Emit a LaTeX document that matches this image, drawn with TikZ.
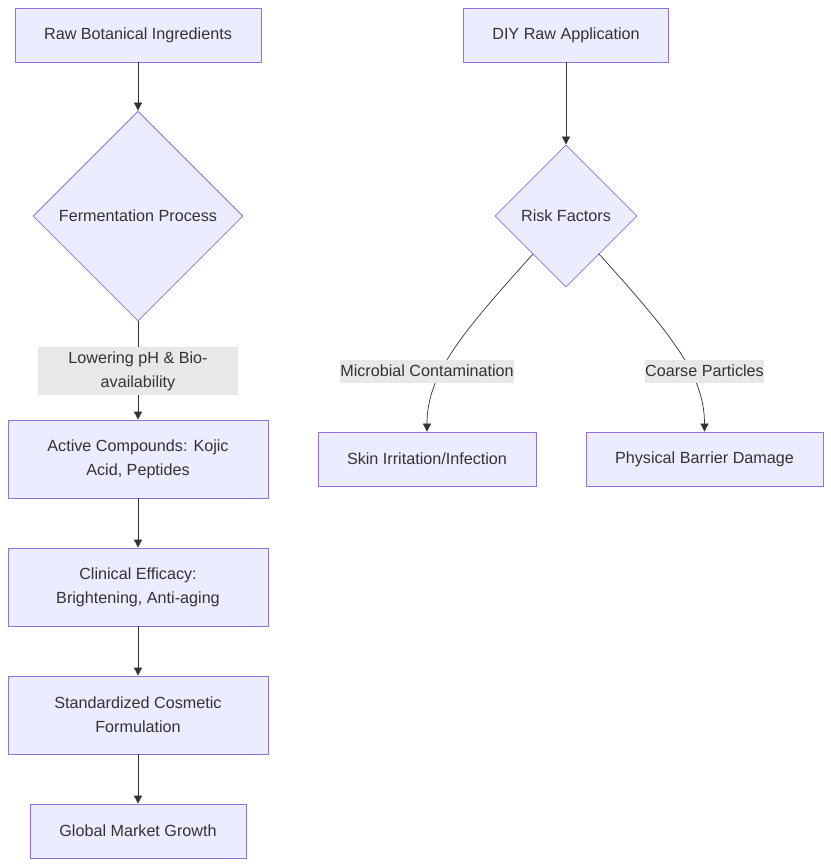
\documentclass[tikz,border=0pt]{standalone}
\usepackage{fontspec}
\setmainfont{Liberation Sans}
\usetikzlibrary{shapes.geometric,arrows.meta}
\definecolor{boxfill}{HTML}{ECECFF}
\definecolor{boxline}{HTML}{9370DB}
\definecolor{ink}{HTML}{333333}
\definecolor{lblfill}{HTML}{E8E8E8}
\begin{document}
\begin{tikzpicture}[
  x=0.02cm, y=-0.02cm,
  every node/.style={text=ink, font=\fontsize{9.2pt}{13.6pt}\selectfont, align=center},
  box/.style={rectangle, fill=boxfill, draw=boxline, line width=0.45pt, inner sep=0pt},
  decision/.style={diamond, fill=boxfill, draw=boxline, line width=0.45pt, inner sep=0pt, aspect=1},
  lbl/.style={rectangle, fill=lblfill, inner sep=0pt},
  flow/.style={draw=ink, line width=0.4pt, -{Triangle[length=1.6mm,width=1.6mm]}}
]
  \useasboundingbox (0,0) rectangle (831,867);

  % Rama izquierda: proceso de fermentacion
  \node[box, minimum width=4.92cm, minimum height=1.08cm] (raw) at (138,35) {Raw Botanical Ingredients};
  \node[decision, minimum width=4.2cm, minimum height=4.2cm] (ferm) at (138,216) {Fermentation Process};
  \node[box, minimum width=5.2cm, minimum height=1.56cm] (active) at (138,459) {Active Compounds: Kojic\\Acid, Peptides};
  \node[box, minimum width=5.2cm, minimum height=1.56cm] (clinic) at (138,587) {Clinical Efficacy:\\Brightening, Anti-aging};
  \node[box, minimum width=5.2cm, minimum height=1.56cm] (formul) at (138,715) {Standardized Cosmetic\\Formulation};
  \node[box, minimum width=4.32cm, minimum height=1.08cm] (market) at (138,831) {Global Market Growth};

  % Rama derecha: aplicacion casera
  \node[box, minimum width=4.1cm, minimum height=1.08cm] (diy) at (566,35) {DIY Raw Application};
  \node[decision, minimum width=2.84cm, minimum height=2.84cm] (risk) at (566,216) {Risk Factors};
  \node[box, minimum width=4.36cm, minimum height=1.08cm] (skin) at (427,459) {Skin Irritation/Infection};
  \node[box, minimum width=4.74cm, minimum height=1.08cm] (barrier) at (704.5,459) {Physical Barrier Damage};

  % Flechas de la izquierda
  \draw[flow] (raw) -- (ferm);
  \draw[flow] (ferm) -- (active);
  \draw[flow] (active) -- (clinic);
  \draw[flow] (clinic) -- (formul);
  \draw[flow] (formul) -- (market);

  % Flechas de la derecha
  \draw[flow] (diy) -- (risk);
  \draw[flow] (risk.229) .. controls (460,335) and (427,375) .. (skin.north);
  \draw[flow] (risk.311) .. controls (672,335) and (704.5,375) .. (barrier.north);

  % Etiquetas de las aristas
  \node[lbl, minimum width=4cm, minimum height=0.96cm] (lowph) at (138,371) {Lowering pH \& Bio-\\availability};
  \node[lbl, minimum width=3.44cm, minimum height=0.46cm] (microb) at (427,371) {Microbial Contamination};
  \node[lbl, minimum width=2.34cm, minimum height=0.46cm] (coarse) at (704.5,371) {Coarse Particles};
\end{tikzpicture}
\end{document}
